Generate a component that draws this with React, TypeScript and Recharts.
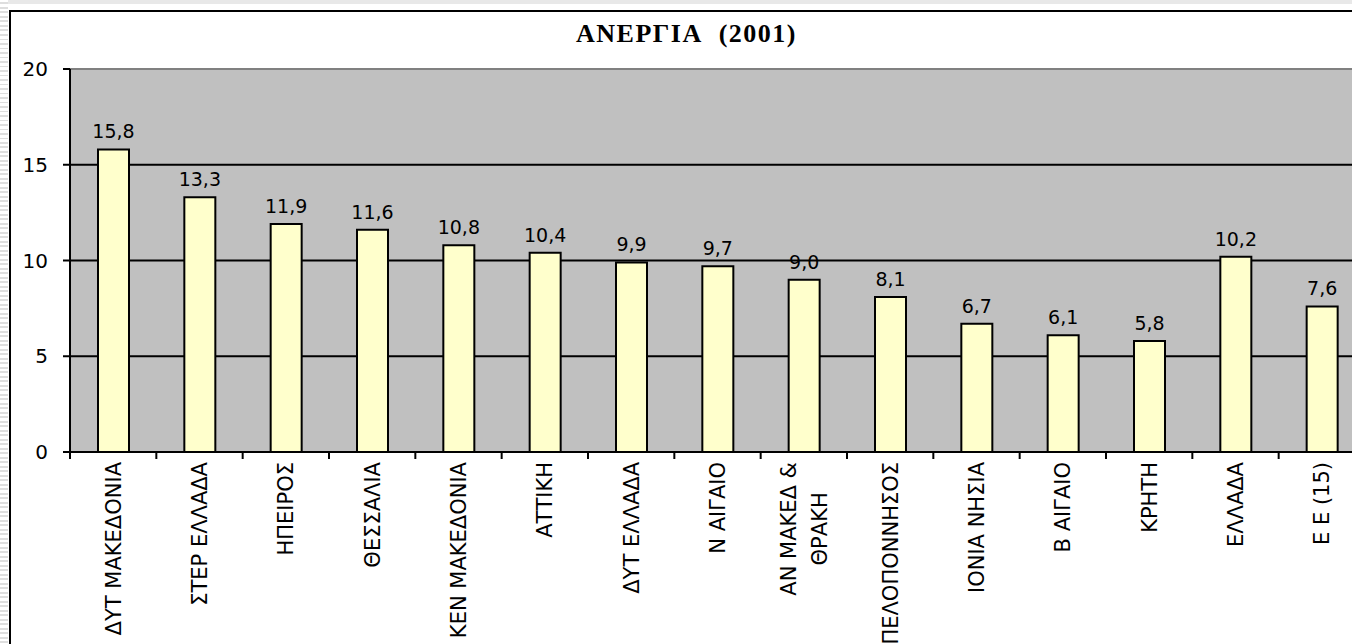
import { BarChart, Bar, XAxis, YAxis, CartesianGrid, LabelList, ReferenceLine } from "recharts";

// Greek regional unemployment, 2001 (%)
const regions = [
  "ΔΥΤ ΜΑΚΕΔΟΝΙΑ",
  "ΣΤΕΡ ΕΛΛΑΔΑ",
  "ΗΠΕΙΡΟΣ",
  "ΘΕΣΣΑΛΙΑ",
  "ΚΕΝ ΜΑΚΕΔΟΝΙΑ",
  "ΑΤΤΙΚΗ",
  "ΔΥΤ ΕΛΛΑΔΑ",
  "Ν ΑΙΓΑΙΟ",
  "ΑΝ ΜΑΚΕΔ &\nΘΡΑΚΗ",
  "ΠΕΛΟΠΟΝΝΗΣΟΣ",
  "ΙΟΝΙΑ ΝΗΣΙΑ",
  "Β ΑΙΓΑΙΟ",
  "ΚΡΗΤΗ",
  "ΕΛΛΑΔΑ",
  "Ε Ε (15)",
];
const unemployment = [15.8, 13.3, 11.9, 11.6, 10.8, 10.4, 9.9, 9.7, 9.0, 8.1, 6.7, 6.1, 5.8, 10.2, 7.6];
const yTicks = [0, 5, 10, 15, 20];
const gridValues = [5, 10, 15];

const data = regions.map((region, i) => ({ region, value: unemployment[i] }));

const CHART_W = 1359;
const CHART_H = 700;
const MARGIN = { top: 57, right: 5, left: 0, bottom: 0 };
const YAXIS_W = 59;
const XAXIS_H = 260;
const BAND = (CHART_W - MARGIN.left - MARGIN.right - YAXIS_W) / regions.length;

const FONT = '"DejaVu Sans", sans-serif';
const TICK_FONT_SIZE = 21;
const LINE_H = 31;

let measureCtx: CanvasRenderingContext2D | null = null;
function textWidth(s: string) {
  if (!measureCtx) measureCtx = document.createElement("canvas").getContext("2d");
  if (!measureCtx) return s.length * TICK_FONT_SIZE * 0.65;
  measureCtx.font = `${TICK_FONT_SIZE}px "DejaVu Sans"`;
  return measureCtx.measureText(s).width;
}

function RegionTick(props: any) {
  const { x, y, payload } = props;
  const lines = String(payload.value).split("\n");
  const first = textWidth(lines[0]);
  return (
    <g>
      <line x1={x - BAND / 2} x2={x - BAND / 2} y1={y} y2={y + 7} stroke="#000" strokeWidth={2} />
      <g transform={`translate(${x},${y + 10}) rotate(-90)`}>
        {lines.map((ln, i) => (
          <text
            key={i}
            x={i === 0 ? 0 : -first / 2}
            y={(i - (lines.length - 1) / 2) * LINE_H}
            dy="0.36em"
            textAnchor={i === 0 ? "end" : "middle"}
            fontFamily={FONT}
            fontSize={TICK_FONT_SIZE}
            fill="#000"
          >
            {ln}
          </text>
        ))}
      </g>
    </g>
  );
}

export default function App() {
  return (
    <div
      style={{
        position: "fixed",
        left: 0,
        top: 0,
        width: 1352,
        height: 644,
        overflow: "hidden",
        background: "#fff",
      }}
    >
      <div style={{ position: "absolute", left: 0, top: 0, width: 1352, height: 4, background: "#e8e8e8" }} />
      <div
        style={{
          position: "absolute",
          left: 0,
          top: 0,
          width: 8,
          height: 644,
          background: "repeating-linear-gradient(to bottom, #ffffff 0px, #ffffff 2.5px, #dedede 2.5px, #dedede 4.5px)",
        }}
      />
      <div
        style={{
          position: "absolute",
          left: 9,
          top: 10,
          width: CHART_W,
          height: CHART_H,
          border: "2px solid #000",
          background: "#fff",
        }}
      >
        <div
          style={{
            position: "absolute",
            left: -4,
            top: 7,
            width: "100%",
            textAlign: "center",
            fontFamily: '"Liberation Serif", serif',
            fontWeight: 900,
            fontSize: 26,
            lineHeight: "30px",
            letterSpacing: 1.5,
            color: "#000",
          }}
        >
          ΑΝΕΡΓΙΑ&nbsp; (2001)
        </div>
        <div style={{ position: "absolute", left: 0, top: 0 }}>
          <BarChart width={CHART_W} height={CHART_H} data={data} margin={MARGIN}>
            <CartesianGrid
              vertical={false}
              horizontalValues={gridValues}
              fill="#C0C0C0"
              fillOpacity={1}
              stroke="#000"
              strokeWidth={2}
            />
            <ReferenceLine y={20} stroke="#808080" strokeWidth={2} />
            <XAxis
              dataKey="region"
              interval={0}
              height={XAXIS_H}
              tickSize={0}
              tickMargin={0}
              tickLine={false}
              axisLine={{ stroke: "#000", strokeWidth: 2 }}
              tick={<RegionTick />}
            />
            <YAxis
              domain={[0, 20]}
              ticks={yTicks}
              width={YAXIS_W}
              tickSize={7}
              tickMargin={15}
              axisLine={{ stroke: "#000", strokeWidth: 2 }}
              tickLine={{ stroke: "#000", strokeWidth: 2 }}
              tick={{ fill: "#000", fontSize: 20, fontFamily: FONT }}
            />
            <Bar dataKey="value" fill="#FFFFCC" stroke="#000" strokeWidth={2} barSize={31} isAnimationActive={false}>
              <LabelList
                dataKey="value"
                position="top"
                offset={11}
                fill="#000"
                fontSize={19}
                fontFamily={FONT}
                formatter={(v: any) => Number(v).toFixed(1).replace(".", ",")}
              />
            </Bar>
          </BarChart>
        </div>
      </div>
    </div>
  );
}
